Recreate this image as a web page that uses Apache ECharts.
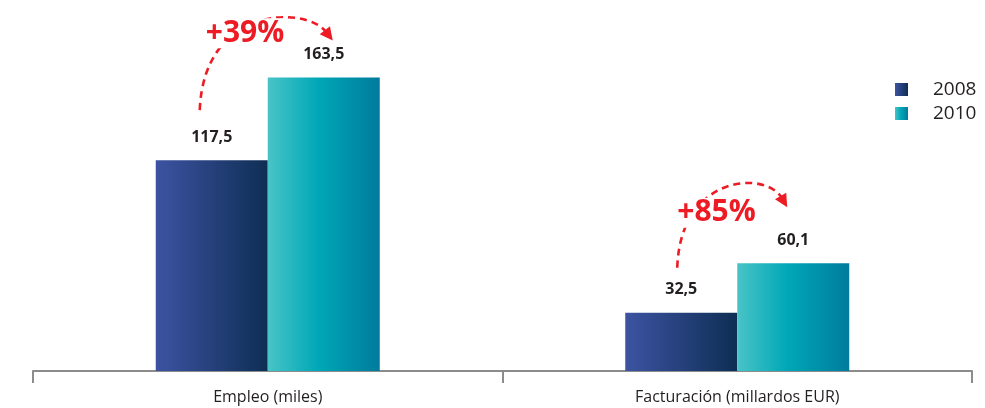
<!DOCTYPE html>
<html>
<head>
<meta charset="utf-8">
<script src="https://cdn.jsdelivr.net/npm/echarts@6/dist/echarts.min.js"></script>
<style>html,body{margin:0;padding:0;background:#fff}#c{width:985px;height:408px}</style>
</head>
<body>
<div id="c"></div>
<script>
var categories = ['Empleo (miles)', 'Facturación (millardos EUR)'];
var seriesNames = ['2008', '2010'];
var values2008 = [117.5, 32.5];
var values2010 = [163.5, 60.1];
var changeLabels = ['+39%', '+85%'];

var FONT = '"Open Sans", "Noto Sans", sans-serif';
var TXT = '#231f20';
var RED = '#ed1c24';
var BAR_W = 112;

function grad(stops) {
  return new echarts.graphic.LinearGradient(0, 0, 1, 0, stops);
}
var g2008 = grad([{offset:0,color:'#3d53a2'},{offset:1,color:'#0e2e54'}]);
var g2010 = grad([{offset:0,color:'#48c4c7'},{offset:0.45,color:'#00a7b7'},{offset:1,color:'#007b9c'}]);

function fmt(v){ return String(v).replace('.', ','); }

var chart = echarts.init(document.getElementById('c'), null, {renderer:'canvas'});
chart.setOption({
  animation: false,
  backgroundColor: '#fff',
  grid: {left: 33, right: 13, top: 48, bottom: 37, containLabel: false},
  legend: {
    orient: 'vertical', left: 895, top: 80, padding: 0,
    itemWidth: 13, itemHeight: 13, itemGap: 5,
    icon: 'rect',
    textStyle: {fontFamily: FONT, fontSize: 19, color: TXT, lineHeight: 19, padding: [0,0,0,20]},
    data: seriesNames
  },
  xAxis: {
    type: 'category', data: categories, boundaryGap: true,
    axisLine: {lineStyle: {color: '#8c8c8c', width: 2}},
    axisTick: {show: true, length: 12, lineStyle: {color: '#8c8c8c', width: 2}},
    axisLabel: {fontFamily: FONT, fontSize: 16, color: TXT, margin: 18}
  },
  yAxis: {type: 'value', min: 0, max: 180, show: false, splitLine: {show: false}},
  series: [
    {name: seriesNames[0], type: 'bar', data: values2008, barWidth: BAR_W, barGap: '0%',
     itemStyle: {color: g2008},
     label: {show: true, position: 'top', distance: 15, fontFamily: FONT, fontWeight: 'bold', fontSize: 16, color: TXT,
             formatter: function(p){return fmt(p.value);}}},
    {name: seriesNames[1], type: 'bar', data: values2010, barWidth: BAR_W,
     itemStyle: {color: g2010},
     label: {show: true, position: 'top', distance: 15, fontFamily: FONT, fontWeight: 'bold', fontSize: 16, color: TXT,
             formatter: function(p){return fmt(p.value);}}}
  ]
});

// annotation geometry offsets: s = start rel. to 2008 bar top, e = arrow tip rel. to 2010 bar top,
// c1 rel. to start, c2 rel. to tip, t = text anchor rel. to start
var annot = [
  {s:[-12,-50], e:[9,-37], c1:[4,-105], c2:[-27,-35], t:[4,-77]},
  {s:[-4,-45], e:[-6,-56], c1:[3,-93], c2:[-22,-37], t:[-2,-55]}
];

var graphics = [];
for (var i = 0; i < categories.length; i++) {
  var p1 = chart.convertToPixel({xAxisIndex:0, yAxisIndex:0}, [i, values2008[i]]);
  var p2 = chart.convertToPixel({xAxisIndex:0, yAxisIndex:0}, [i, values2010[i]]);
  var x1 = p1[0] - BAR_W/2, y1 = p1[1];
  var x2 = p2[0] + BAR_W/2, y2 = p2[1];
  var a = annot[i];
  var sx = x1 + a.s[0], sy = y1 + a.s[1];
  var ex = x2 + a.e[0], ey = y2 + a.e[1];
  var c1x = sx + a.c1[0], c1y = sy + a.c1[1];
  var c2x = ex + a.c2[0], c2y = ey + a.c2[1];
  var dx = ex - c2x, dy = ey - c2y, L = Math.sqrt(dx*dx+dy*dy); dx/=L; dy/=L;
  var al = 13, aw = 6.5;
  var bx = ex - dx*al, by = ey - dy*al;
  graphics.push({type:'bezierCurve', z: 10,
    shape:{x1:sx,y1:sy,cpx1:c1x,cpy1:c1y,cpx2:c2x,cpy2:c2y,x2:bx+dx*2,y2:by+dy*2},
    style:{stroke:RED, lineWidth:2.6, lineDash:[7,5], fill:null}});
  graphics.push({type:'polygon', z: 11,
    shape:{points:[[ex,ey],[bx - dy*aw, by + dx*aw],[bx + dy*aw, by - dx*aw]]},
    style:{fill:RED}});
  graphics.push({type:'text', z: 12,
    x: sx + a.t[0], y: sy + a.t[1],
    style:{text: changeLabels[i], fill: RED, fontFamily: FONT, fontWeight: 'bold', fontSize: 30,
           verticalAlign: 'middle', align: 'left', backgroundColor: '#fff', padding: [0,2,0,2]}});
}
chart.setOption({graphic: graphics});
</script>
</body>
</html>
